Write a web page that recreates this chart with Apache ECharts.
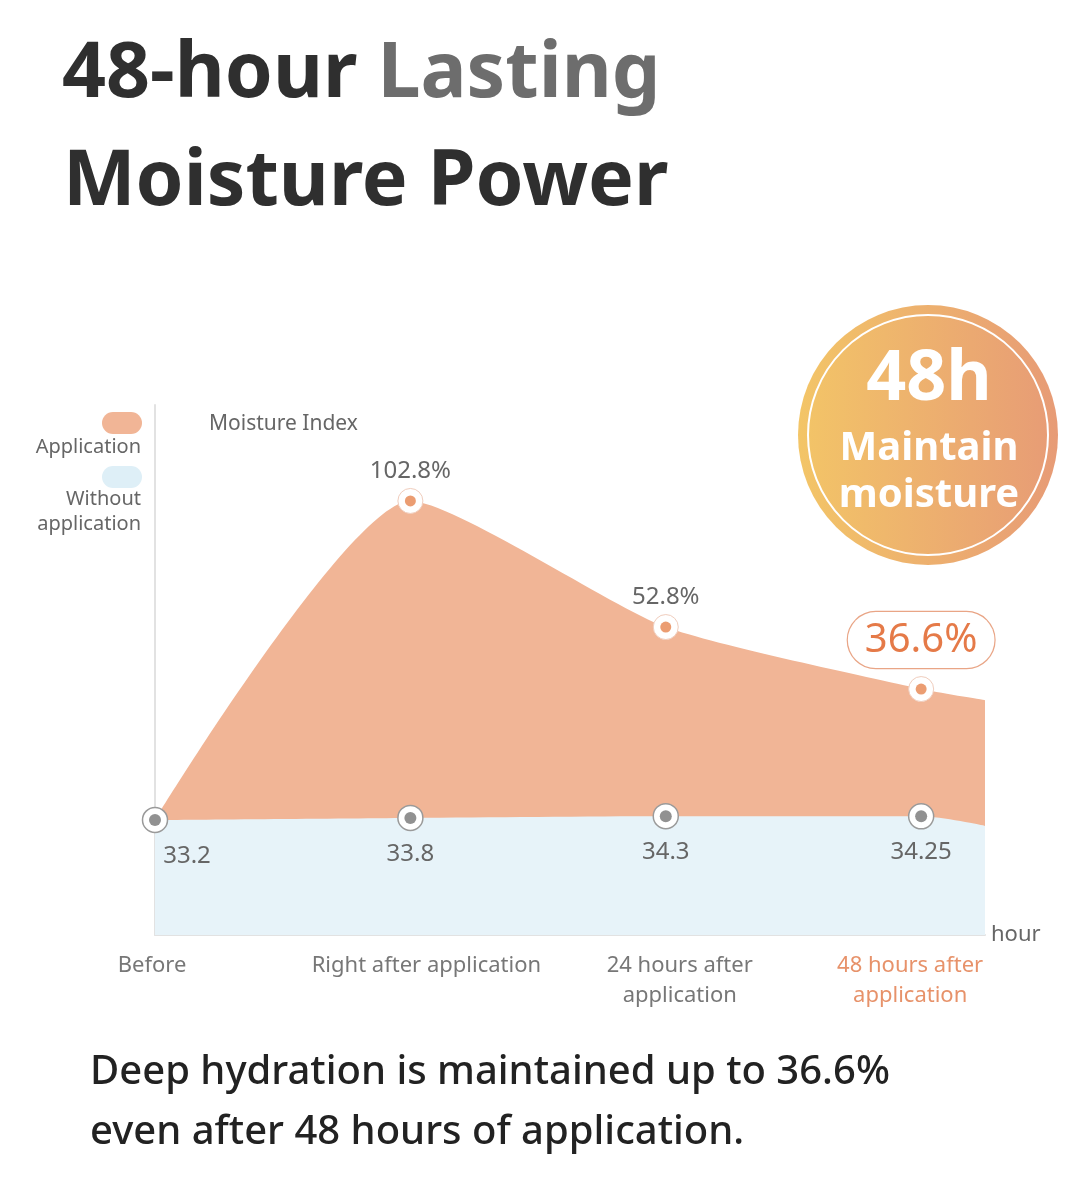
<!DOCTYPE html>
<html>
<head>
<meta charset="utf-8">
<script src="https://cdn.jsdelivr.net/npm/echarts@6/dist/echarts.min.js"></script>
<style>
html,body{margin:0;padding:0;background:#fff;}
#chart{width:1089px;height:1185px;}
</style>
</head>
<body>
<div id="chart"></div>
<script>
// ---- data ----
const categories = ['Before', 'Right after application', '24 hours after\napplication', '48 hours after\napplication'];
// moisture index without application (labelled values) + trailing edge of the area
const withoutValues = [33.2, 33.8, 34.3, 34.25];
const withoutTail = 31.5;
// application curve height on the hidden moisture-index scale
const applicationValues = [33.2, 125.3, 88.9, 71.0];
const applicationTail = 67.8;
// increase labels after application
const applicationPct = [null, '102.8%', '52.8%', '36.6%'];
const tailX = 3.25;

const FONT = '"Noto Sans", "Open Sans", sans-serif';
const ORANGE_AREA = '#f1b596';
const BLUE_AREA = '#e7f3f9';
const ORANGE_DOT = '#e6854f';
const GREY_DOT = '#767676';

function pts(values, tail) {
  const arr = values.map((v, i) => [i, v]);
  arr.push([tailX, tail]);
  return arr;
}

const appData = pts(applicationValues, applicationTail).map((p, i) => {
  const item = { value: p, symbol: 'none' };
  if (i < categories.length && applicationPct[i]) {
    item.symbol = 'circle';
    const isLast = i === categories.length - 1;
    item.label = isLast ? {
      show: true, position: 'top', distance: 8,
      formatter: applicationPct[i],
      color: '#e57a48', fontSize: 40, fontFamily: FONT,
      borderColor: '#e9a586', borderWidth: 1.2, borderRadius: 29,
      padding: [9, 17, 7, 17], backgroundColor: '#fff'
    } : {
      show: true, position: 'top', distance: 5,
      formatter: applicationPct[i],
      color: '#666', fontSize: 24, fontFamily: FONT
    };
  }
  return item;
});

const withoutData = pts(withoutValues, withoutTail).map((p, i) => {
  const item = { value: p, symbol: 'none' };
  if (i < categories.length) {
    item.symbol = 'circle';
    item.label = {
      show: true, position: 'bottom', distance: 11,
      formatter: String(withoutValues[i]),
      color: '#666', fontSize: 24, fontFamily: FONT,
      offset: i === 0 ? [32, 0] : [0, 0]
    };
  }
  return item;
});

const appDots = applicationValues.map((v, i) => applicationPct[i] ? [i, v] : null).filter(Boolean);
const withoutDots = withoutValues.map((v, i) => [i, v]);

const chart = echarts.init(document.getElementById('chart'));
chart.setOption({
  backgroundColor: '#fff',
  animation: false,
  grid: { left: 155, right: 104, top: 405, bottom: 250 },
  xAxis: {
    type: 'value', min: 0, max: tailX, interval: 1,
    name: 'hour', nameLocation: 'end', nameGap: 6,
    nameTextStyle: { color: '#666', fontSize: 22, fontFamily: FONT, verticalAlign: 'middle', padding: [4, 0, 0, 0] },
    axisLine: { show: true, lineStyle: { color: '#e2e2e2', width: 2 } },
    axisTick: { show: false },
    splitLine: { show: false },
    axisLabel: {
      margin: 16, lineHeight: 30, fontSize: 22, fontFamily: FONT, color: '#777',
      formatter: function (v) {
        if (Math.abs(v - Math.round(v)) > 1e-6 || v >= categories.length) return '';
        const i = Math.round(v);
        const style = i === categories.length - 1 ? 'last' : 'c' + i;
        return categories[i].split('\n').map(s => '{' + style + '|' + s + '}').join('\n');
      },
      rich: {
        c0: { color: '#777', fontSize: 22, fontFamily: FONT, lineHeight: 30, padding: [0, 6, 0, 0] },
        c1: { color: '#777', fontSize: 22, fontFamily: FONT, lineHeight: 30, padding: [0, 0, 0, 32] },
        c2: { color: '#777', fontSize: 22, fontFamily: FONT, lineHeight: 30, padding: [0, 0, 0, 28] },
        last: { color: '#e7926a', fontSize: 22, fontFamily: FONT, lineHeight: 30, padding: [0, 22, 0, 0] }
      }
    }
  },
  yAxis: {
    type: 'value', min: 0, max: 153,
    name: 'Moisture Index', nameLocation: 'end', nameGap: -30,
    nameTextStyle: { color: '#666', fontSize: 21, fontFamily: FONT, align: 'left', padding: [0, 0, 0, 54] },
    axisLine: { show: true, lineStyle: { color: '#e2e2e2', width: 2 } },
    axisTick: { show: false },
    axisLabel: { show: false },
    splitLine: { show: false }
  },
  series: [
    {
      name: 'Application', type: 'line', data: appData, smooth: 0.2,
      lineStyle: { width: 0 }, areaStyle: { color: ORANGE_AREA, opacity: 1 },
      symbolSize: 25,
      itemStyle: { color: '#fff', borderColor: '#f0cdbd', borderWidth: 1 },
      z: 2
    },
    {
      name: 'Without application', type: 'line', data: withoutData, smooth: 0.3,
      lineStyle: { width: 0 }, areaStyle: { color: BLUE_AREA, opacity: 1 },
      symbolSize: 25,
      itemStyle: { color: '#fff', borderColor: '#9a9a9a', borderWidth: 1.5 },
      z: 3
    },
    {
      type: 'scatter', data: appDots, symbolSize: 11,
      itemStyle: { color: ORANGE_DOT }, z: 5, silent: true
    },
    {
      type: 'scatter', data: withoutDots, symbolSize: 12,
      itemStyle: { color: GREY_DOT }, z: 5, silent: true
    }
  ],
  graphic: [
    // Title
    {
      type: 'text', left: 62, top: 37, z: 10,
      style: {
        text: '{a|48-hour }{b|Lasting}',
        rich: {
          a: { fontSize: 77, fontWeight: 'bold', fontFamily: FONT, fill: '#2f2f2f' },
          b: { fontSize: 77, fontWeight: 'bold', fontFamily: FONT, fill: '#6d6d6d' }
        }
      }
    },
    {
      type: 'text', left: 63, top: 145, z: 10,
      style: { text: 'Moisture Power', fontSize: 77, fontWeight: 'bold', fontFamily: FONT, fill: '#2f2f2f' }
    },
    // Legend
    { type: 'rect', shape: { x: 102, y: 412, width: 40, height: 22, r: 11 }, style: { fill: ORANGE_AREA }, z: 10 },
    { type: 'text', x: 141, y: 447, z: 10, style: { text: 'Application', align: 'right', verticalAlign: 'middle', fontSize: 20, fontFamily: FONT, fill: '#666' } },
    { type: 'rect', shape: { x: 102, y: 466, width: 40, height: 22, r: 11 }, style: { fill: '#deeff7' }, z: 10 },
    { type: 'text', x: 141, y: 512, z: 10, style: { text: 'Without\napplication', align: 'right', verticalAlign: 'middle', fontSize: 20, lineHeight: 25, fontFamily: FONT, fill: '#666' } },
    // Badge
    {
      type: 'circle', shape: { cx: 928, cy: 435, r: 130 }, z: 10,
      style: {
        fill: new echarts.graphic.LinearGradient(0, 0, 1, 0, [
          { offset: 0, color: '#f3c567' },
          { offset: 1, color: '#e79b76' }
        ])
      }
    },
    { type: 'circle', shape: { cx: 928, cy: 435, r: 120 }, z: 11, style: { fill: 'none', stroke: '#fff', lineWidth: 2 } },
    { type: 'text', x: 929, y: 380, z: 12, style: { text: '48h', align: 'center', verticalAlign: 'middle', fontSize: 70, fontWeight: 'bold', fontFamily: FONT, fill: '#fff' } },
    { type: 'text', x: 929, y: 472, z: 12, style: { text: 'Maintain\nmoisture', align: 'center', verticalAlign: 'middle', fontSize: 40, lineHeight: 47, fontWeight: 'bold', fontFamily: FONT, fill: '#fff' } },
    // Footnote
    {
      type: 'text', left: 90, top: 1043, z: 10,
      style: { text: 'Deep hydration is maintained up to 36.6%\neven after 48 hours of application.', fontSize: 40, lineHeight: 60, fontWeight: 500, fontFamily: FONT, fill: '#222' }
    }
  ]
});
</script>
</body>
</html>
